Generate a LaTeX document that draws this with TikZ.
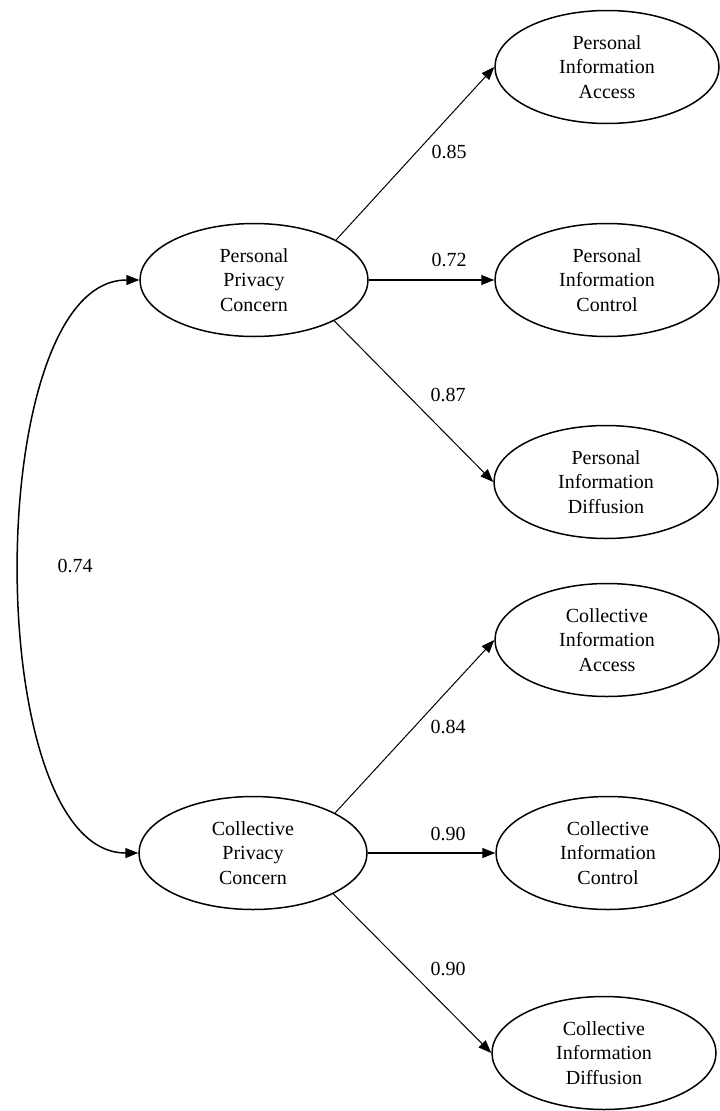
\documentclass[tikz,border=0pt]{standalone}
\usepackage{fontspec}
\setmainfont{Liberation Serif}
\usetikzlibrary{shapes.geometric,arrows.meta}
\begin{document}
\begin{tikzpicture}[x=1pt,y=-1pt,
  lat/.style={ellipse,draw,line width=1.5pt,minimum width=228pt,minimum height=113pt,inner sep=0pt,align=center,font=\fontsize{20}{24.5}\selectfont},
  ind/.style={ellipse,draw,line width=1.5pt,minimum width=224pt,minimum height=113pt,inner sep=0pt,align=center,font=\fontsize{20}{24.5}\selectfont},
  tip/.style={-{Triangle[length=13pt,width=10pt]}},
  diag/.style={tip,line width=1pt},
  straight/.style={tip,line width=1.4pt},
  lbl/.style={font=\fontsize{20}{24}\selectfont,inner sep=0pt}]
\useasboundingbox (0,0) rectangle (720,1111);
\node[lat] (ppc) at (254,280) {Personal\\Privacy\\Concern};
\node[lat] (cpc) at (253,853) {Collective\\Privacy\\Concern};
\node[ind] (pia) at (607,67) {Personal\\Information\\Access};
\node[ind] (pic) at (607,280) {Personal\\Information\\Control};
\node[ind] (pid) at (606,482) {Personal\\Information\\Diffusion};
\node[ind] (cia) at (607,640) {Collective\\Information\\Access};
\node[ind] (cic) at (608,853) {Collective\\Information\\Control};
\node[ind] (cid) at (604,1053) {Collective\\Information\\Diffusion};

\draw[diag] (ppc.26) -- (pia.west);
\draw[straight] (ppc.east) -- (pic.west);
\draw[diag] (ppc.-27) -- (pid.west);
\draw[diag] (cpc.26) -- (cia.west);
\draw[straight] (cpc.east) -- (cic.west);
\draw[diag] (cpc.-27) -- (cid.west);

\draw[{Triangle[length=13pt,width=10pt]}-{Triangle[length=13pt,width=10pt]},line width=1.5pt]
  (ppc.west) .. controls +(-158,0) and +(-158,0) .. (cpc.west);

\node[lbl] (l1) at (449,152) {0.85};
\node[lbl] (l2) at (449,260) {0.72};
\node[lbl] (l3) at (448,395) {0.87};
\node[lbl] (l4) at (448,727) {0.84};
\node[lbl] (l5) at (448,834) {0.90};
\node[lbl] (l6) at (448,969) {0.90};
\node[lbl] (l7) at (75,566) {0.74};
\end{tikzpicture}
\end{document}
